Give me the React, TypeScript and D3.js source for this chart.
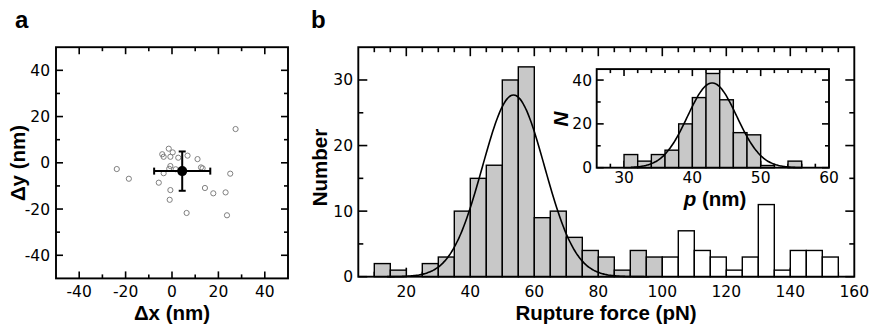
import React from "react";
import * as d3 from "d3";

// ---------- Panel a: displacement scatter ----------
const scatterX = [-23.8, -18.6, 27.4, -1.4, -4.2, -3.6, 0.3, -0.7, 2.7, 6.7, 11.0, 12.5, 13.2, -0.7, -3.6, -5.7, -0.7, -1.0, 6.3, 14.2, 17.8, 23.1, 23.7, 25.1, 1.6, -1.2];
const scatterY = [-2.7, -6.9, 14.6, 6.1, 3.7, 2.6, 4.5, 2.6, 2.2, 3.1, 1.6, -2.0, -2.4, -1.4, -4.5, -8.6, -11.8, -16.0, -21.7, -10.9, -13.2, -12.8, -22.7, -4.7, -2.8, -2.6];
const meanX = 4.4;
const meanY = -3.6;
const errX = 12.1;
const errY = 8.5;
const aTicks = [-40, -20, 0, 20, 40];

// ---------- Panel b: rupture force histogram ----------
const forceBinStart = [10, 15, 20, 25, 30, 35, 40, 45, 50, 55, 60, 65, 70, 75, 80, 85, 90, 95, 100, 105, 110, 115, 120, 125, 130, 135, 140, 145, 150];
const forceCounts = [2, 1, 0, 2, 3, 10, 15, 17, 30, 32, 9, 10, 6, 4, 3, 1, 4, 3, 3, 7, 4, 3, 1, 3, 11, 1, 4, 4, 3];
const forceBinWidth = 5;
const grayLimit = 100;
const forceTicks = [20, 40, 60, 80, 100, 120, 140, 160];
const numberTicks = [0, 10, 20, 30];
// Gaussian fit (mean, sigma, amplitude)
const forceFit = { mu: 53.5, sigma: 9.7, amp: 27.7, from: 14, to: 96 };

// ---------- Inset: persistence length histogram ----------
const pBinStart = [30, 32, 34, 36, 38, 40, 42, 44, 46, 48, 50, 52, 54];
const pCounts = [6, 3, 6, 8, 20, 32, 43, 31, 16, 15, 1, 0, 3];
const pBinWidth = 2;
const pTicks = [30, 40, 50, 60];
const nTicks = [0, 20, 40];
const pFit = { mu: 42.9, sigma: 3.6, amp: 38.7, from: 31, to: 56 };

const TICK_FONT = "DejaVu Sans";
const LABEL_FONT = "Liberation Sans, Arial, sans-serif";
const GRAY = "#c8c8c8";

function ticksOf(start: number, stop: number, step: number) {
  return d3.range(start, stop + step / 2, step);
}

export default function App() {
  const ax = d3.scaleLinear().domain([-50, 50]).range([56, 288]);
  const ay = d3.scaleLinear().domain([-50, 50]).range([278.4, 47.2]);
  const bx = d3.scaleLinear().domain([5, 160]).range([358.3, 854.3]);
  const by = d3.scaleLinear().domain([0, 35]).range([276.7, 47.2]);
  const ix = d3.scaleLinear().domain([26, 60]).range([596.7, 829]);
  const iy = d3.scaleLinear().domain([0, 45]).range([167.7, 69.1]);

  const gauss = (f: { mu: number; sigma: number; amp: number }) => (x: number) =>
    f.amp * Math.exp(-((x - f.mu) ** 2) / (2 * f.sigma ** 2));

  const forceLine = d3
    .line<number>()
    .x((d) => bx(d))
    .y((d) => by(gauss(forceFit)(d)))
    .curve(d3.curveMonotoneX)(d3.range(forceFit.from, forceFit.to + 0.01, 0.5));

  const pLine = d3
    .line<number>()
    .x((d) => ix(d))
    .y((d) => iy(gauss(pFit)(d)))
    .curve(d3.curveMonotoneX)(d3.range(pFit.from, pFit.to + 0.01, 0.2));

  const tickStroke = { stroke: "#000", strokeWidth: 1.6 };

  const frameTicks = (
    xs: d3.ScaleLinear<number, number>,
    ys: d3.ScaleLinear<number, number>,
    xVals: number[],
    yVals: number[],
    xMajor: (v: number) => boolean,
    yMajor: (v: number) => boolean,
    maj: number,
    min: number,
    key: string
  ) => {
    const [x0, x1] = xs.range();
    const [y0, y1] = ys.range();
    const out: JSX.Element[] = [];
    xVals.forEach((v, i) => {
      const L = xMajor(v) ? maj : min;
      const x = xs(v);
      out.push(<line key={`${key}xb${i}`} x1={x} x2={x} y1={y0} y2={y0 - L} {...tickStroke} />);
      out.push(<line key={`${key}xt${i}`} x1={x} x2={x} y1={y1} y2={y1 + L} {...tickStroke} />);
    });
    yVals.forEach((v, i) => {
      const L = yMajor(v) ? maj : min;
      const y = ys(v);
      out.push(<line key={`${key}yl${i}`} x1={x0} x2={x0 + L} y1={y} y2={y} {...tickStroke} />);
      out.push(<line key={`${key}yr${i}`} x1={x1} x2={x1 - L} y1={y} y2={y} {...tickStroke} />);
    });
    return out;
  };

  const tickText = { fontFamily: TICK_FONT, fontSize: 15.5, fill: "#000" } as const;
  const labelText = { fontFamily: LABEL_FONT, fontSize: 20.5, fontWeight: 700, fill: "#000" } as const;

  return (
    <div style={{ position: "absolute", left: 0, top: 0 }}>
      <svg width={871} height={327} viewBox="0 0 871 327" style={{ display: "block", background: "#fff" }}>
        <rect x={0} y={0} width={871} height={327} fill="#fff" />

        {/* ================= Panel a ================= */}
        <text x={15} y={28} style={{ ...labelText, fontSize: 24 }}>a</text>
        {frameTicks(ax, ay, ticksOf(-40, 40, 10), ticksOf(-40, 40, 10), (v) => v % 20 === 0, (v) => v % 20 === 0, 7, 4, "a")}
        {scatterX.map((x, i) => (
          <circle key={`pt${i}`} cx={ax(x)} cy={ay(scatterY[i])} r={2.6} fill="none" stroke="#808080" strokeWidth={1} />
        ))}
        <g stroke="#000" strokeWidth={2}>
          <line x1={ax(meanX - errX)} x2={ax(meanX + errX)} y1={ay(meanY)} y2={ay(meanY)} />
          <line x1={ax(meanX)} x2={ax(meanX)} y1={ay(meanY - errY)} y2={ay(meanY + errY)} />
          <line x1={ax(meanX - errX)} x2={ax(meanX - errX)} y1={ay(meanY) - 3.5} y2={ay(meanY) + 3.5} />
          <line x1={ax(meanX + errX)} x2={ax(meanX + errX)} y1={ay(meanY) - 3.5} y2={ay(meanY) + 3.5} />
          <line x1={ax(meanX) - 3.5} x2={ax(meanX) + 3.5} y1={ay(meanY - errY)} y2={ay(meanY - errY)} />
          <line x1={ax(meanX) - 3.5} x2={ax(meanX) + 3.5} y1={ay(meanY + errY)} y2={ay(meanY + errY)} />
        </g>
        <circle cx={ax(meanX)} cy={ay(meanY)} r={5} fill="#000" />
        <rect x={56} y={47.2} width={232} height={231.2} fill="none" stroke="#000" strokeWidth={1.9} />
        {aTicks.map((v) => (
          <text key={`axl${v}`} x={ax(v)} y={297} textAnchor="middle" style={tickText}>{v}</text>
        ))}
        {aTicks.map((v) => (
          <text key={`ayl${v}`} x={50} y={ay(v) + 5.5} textAnchor="end" style={tickText}>{v}</text>
        ))}
        <text x={172} y={320} textAnchor="middle" style={labelText}>Δx (nm)</text>
        <text transform="translate(24.5,163) rotate(-90)" textAnchor="middle" style={labelText}>Δy (nm)</text>

        {/* ================= Panel b ================= */}
        <text x={311} y={28} style={{ ...labelText, fontSize: 24 }}>b</text>
        {frameTicks(bx, by, ticksOf(10, 155, 5), ticksOf(0, 30, 5), (v) => v % 20 === 0, (v) => v % 10 === 0, 9, 5, "b")}
        {forceBinStart.map((s, i) =>
          forceCounts[i] > 0 ? (
            <rect
              key={`fb${i}`}
              x={bx(s)}
              y={by(forceCounts[i])}
              width={bx(s + forceBinWidth) - bx(s)}
              height={by(0) - by(forceCounts[i])}
              fill={s < grayLimit ? GRAY : "#fff"}
              stroke="#000"
              strokeWidth={1.4}
            />
          ) : null
        )}
        <path d={forceLine || ""} fill="none" stroke="#000" strokeWidth={1.6} />
        <rect x={358.3} y={47.2} width={496} height={229.5} fill="none" stroke="#000" strokeWidth={1.9} />
        {forceTicks.map((v) => (
          <text key={`bxl${v}`} x={bx(v)} y={297} textAnchor="middle" style={tickText}>{v}</text>
        ))}
        {numberTicks.map((v) => (
          <text key={`byl${v}`} x={353} y={by(v) + 5.5} textAnchor="end" style={tickText}>{v}</text>
        ))}
        <text x={606} y={320} textAnchor="middle" style={labelText}>Rupture force (pN)</text>
        <text transform="translate(327,167.5) rotate(-90)" textAnchor="middle" style={labelText}>Number</text>

        {/* ================= Inset ================= */}
        <rect x={596.7} y={69.1} width={232.3} height={98.6} fill="#fff" />
        {frameTicks(ix, iy, ticksOf(28, 58, 2), ticksOf(0, 40, 10), (v) => v % 10 === 0, (v) => v % 20 === 0, 7, 4, "i")}
        {pBinStart.map((s, i) =>
          pCounts[i] > 0 ? (
            <rect
              key={`pb${i}`}
              x={ix(s)}
              y={iy(pCounts[i])}
              width={ix(s + pBinWidth) - ix(s)}
              height={iy(0) - iy(pCounts[i])}
              fill={GRAY}
              stroke="#000"
              strokeWidth={1.4}
            />
          ) : null
        )}
        <path d={pLine || ""} fill="none" stroke="#000" strokeWidth={1.6} />
        <rect x={596.7} y={69.1} width={232.3} height={98.6} fill="none" stroke="#000" strokeWidth={1.9} />
        {pTicks.map((v) => (
          <text key={`ixl${v}`} x={ix(v)} y={182.5} textAnchor="middle" style={tickText}>{v}</text>
        ))}
        {nTicks.map((v) => (
          <text key={`iyl${v}`} x={592} y={iy(v) + 5.5} textAnchor="end" style={tickText}>{v}</text>
        ))}
        <text x={715} y={205.5} textAnchor="middle" style={labelText}>
          <tspan fontStyle="italic">p</tspan> (nm)
        </text>
        <text transform="translate(568,119) rotate(-90)" textAnchor="middle" style={{ ...labelText, fontStyle: "italic" }}>N</text>
      </svg>
    </div>
  );
}
